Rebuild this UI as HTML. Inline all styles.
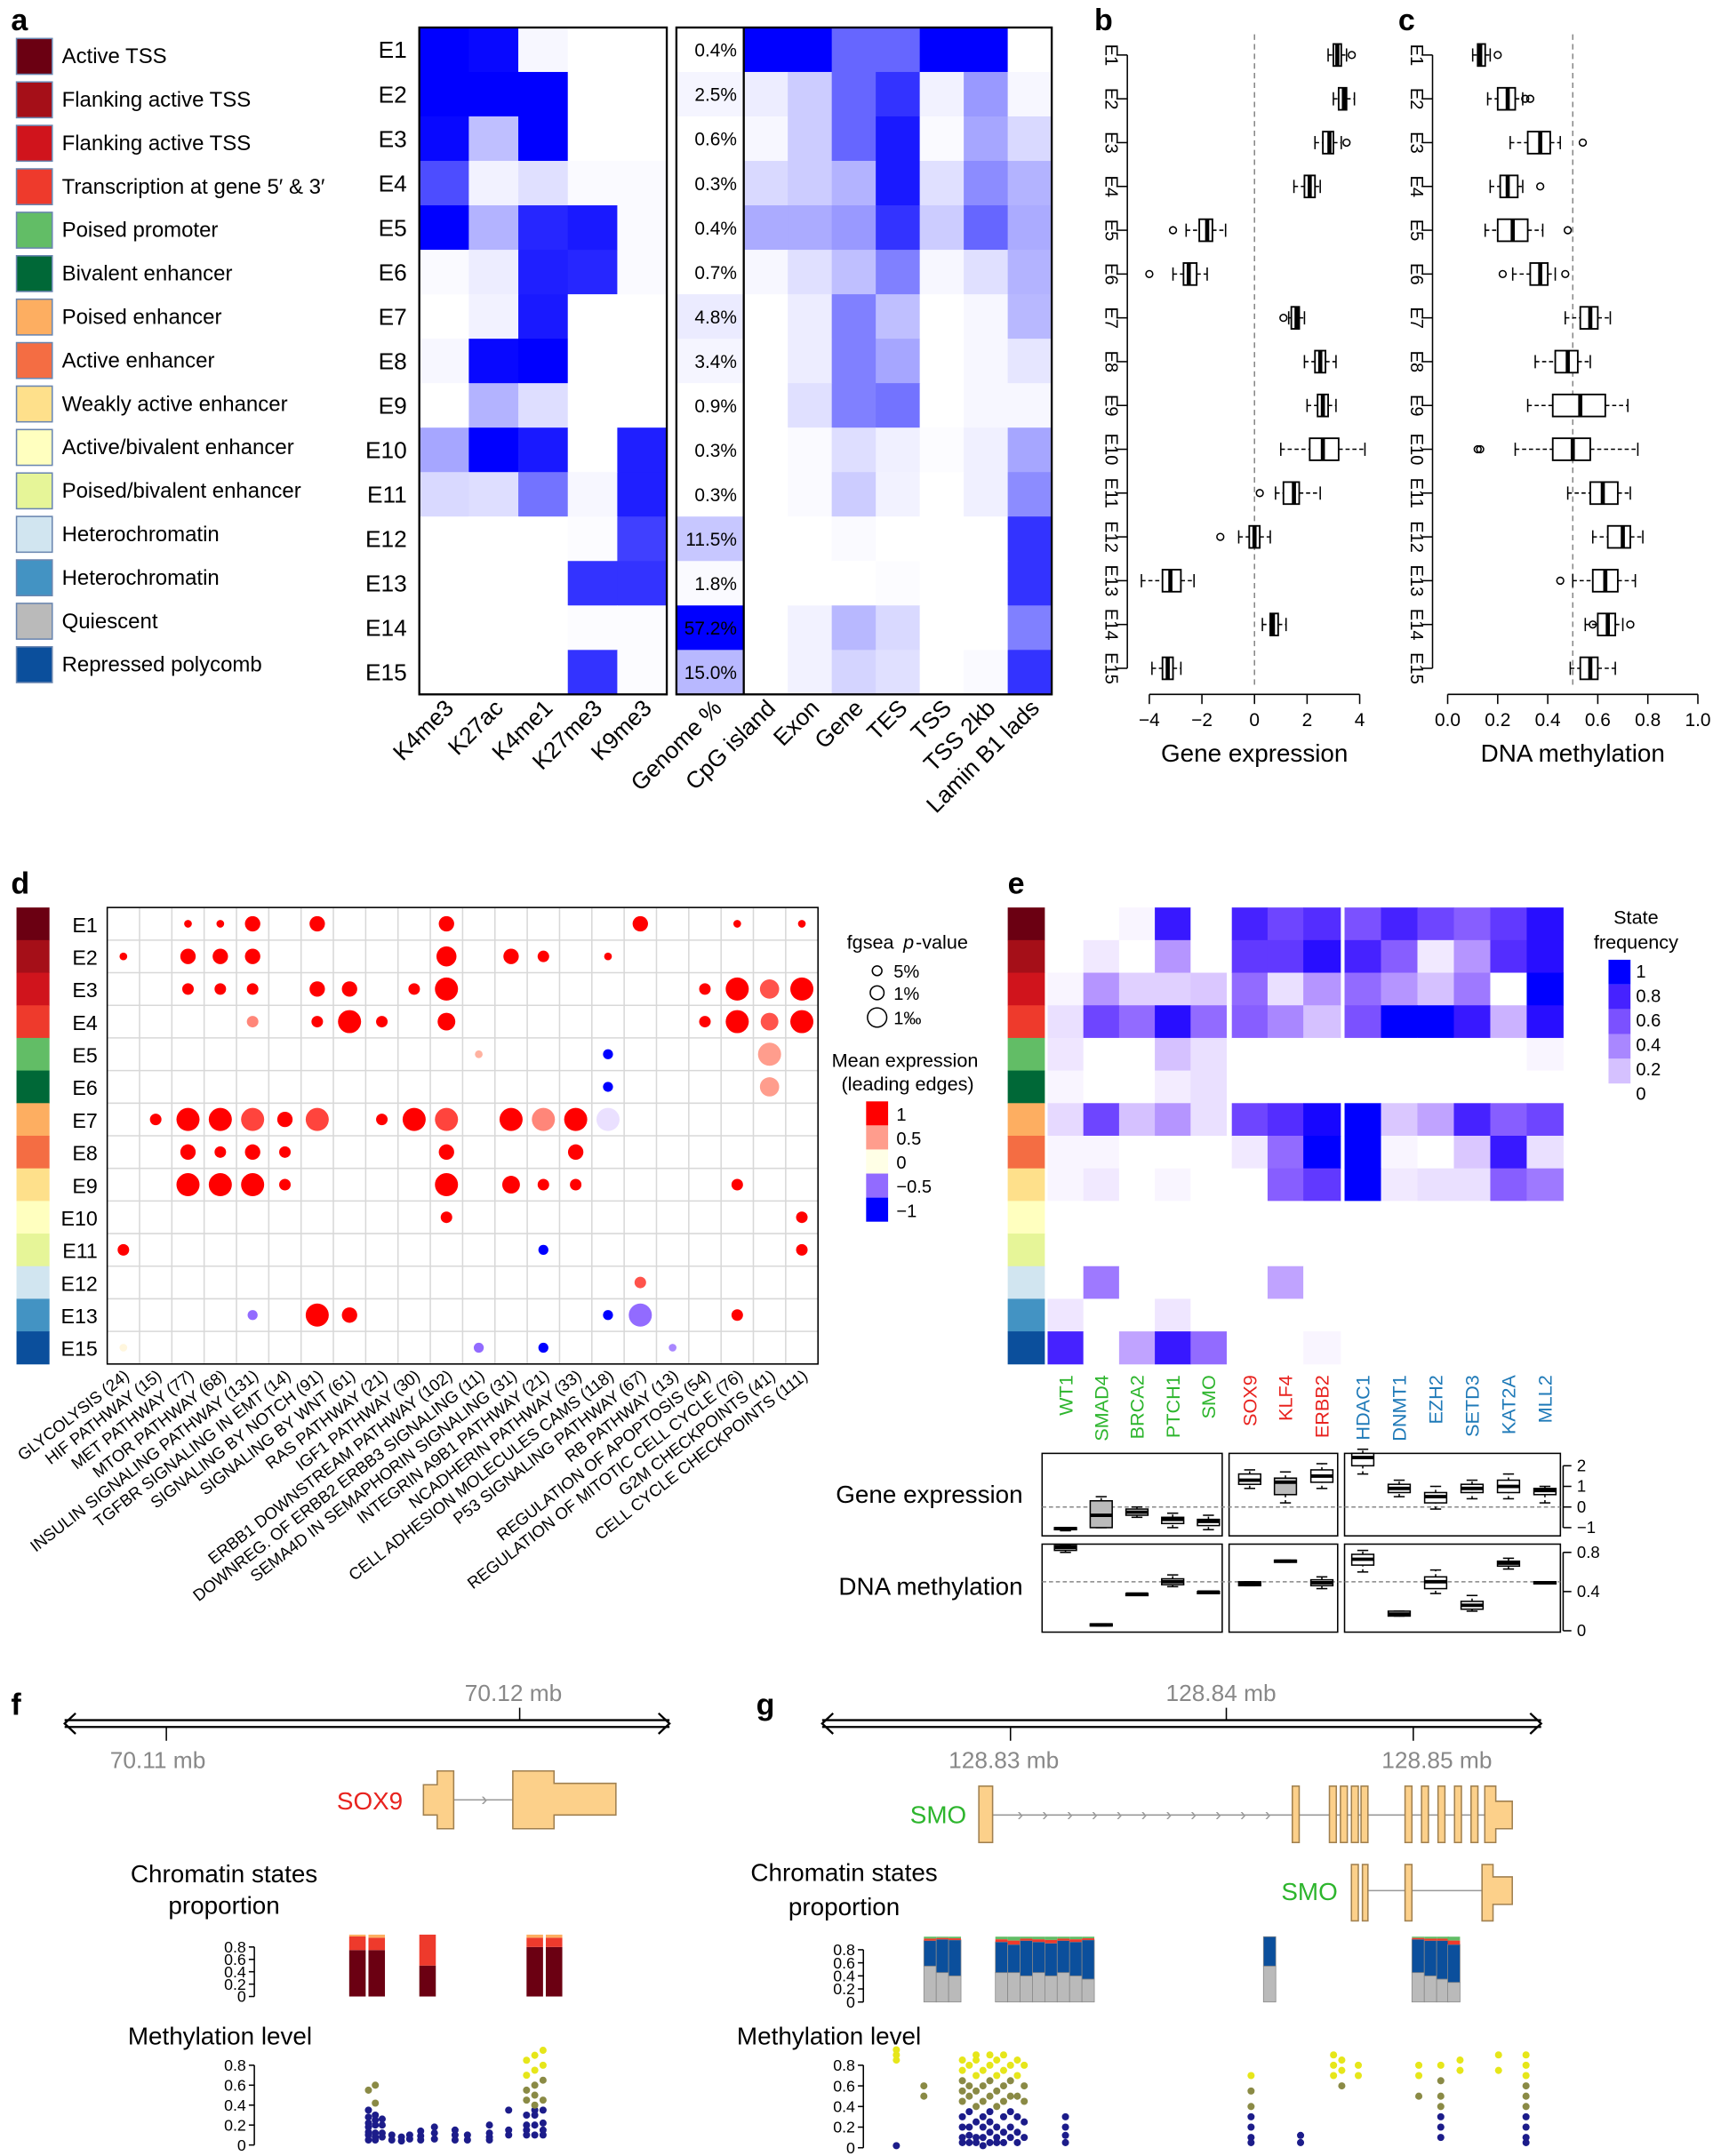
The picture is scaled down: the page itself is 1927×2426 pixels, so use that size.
<!DOCTYPE html>
<html><head><meta charset="utf-8"><style>
html,body{margin:0;padding:0;background:#fff;}
svg{display:block;font-family:"Liberation Sans",Arial,sans-serif;}
</style></head><body>
<svg id="fig" xmlns="http://www.w3.org/2000/svg" width="1927" height="2426" viewBox="0 0 1246 1568" preserveAspectRatio="none"></svg>
<script>
// ---------- DATA ----------
const states=['E1','E2','E3','E4','E5','E6','E7','E8','E9','E10','E11','E12','E13','E14','E15'];
const stateNames=['Active TSS','Flanking active TSS','Flanking active TSS','Transcription at gene 5\u2032 & 3\u2032','Poised promoter','Bivalent enhancer','Poised enhancer','Active enhancer','Weakly active enhancer','Active/bivalent enhancer','Poised/bivalent enhancer','Heterochromatin','Heterochromatin','Quiescent','Repressed polycomb'];
const stateColors=['#6b0012','#a50f18','#d0141c','#ee3a2c','#62bd66','#006837','#fdae61','#f46d43','#fee08b','#ffffbf','#e6f598','#d1e5f0','#4393c3','#bababa','#0b4f9c'];
const markNames=['K4me3','K27ac','K4me1','K27me3','K9me3'];
const markVals=[[1,.97,.03,0,0],[1,1,1,0,0],[.97,.25,1,0,0],[.7,.05,.12,.02,.02],[1,.3,.85,.9,.02],[.02,.07,.88,.85,.02],[0,.05,.9,0,0],[.03,.97,1,0,0],[0,.3,.13,0,0],[.35,1,.9,0,.88],[.15,.13,.55,.03,.88],[0,0,0,.01,.75],[0,0,0,.8,.8],[0,0,0,.01,.01],[0,0,0,.8,.01]];
const genomePct=['0.4%','2.5%','0.6%','0.3%','0.4%','0.7%','4.8%','3.4%','0.9%','0.3%','0.3%','11.5%','1.8%','57.2%','15.0%'];
const genomeShade=[0,.04,0,0,0,0,.08,.04,0,0,0,.22,.02,1,.28];
const annNames=['CpG island','Exon','Gene','TES','TSS','TSS 2kb','Lamin B1 lads'];
const annVals=[[1,1,.6,.6,1,1,0],[.07,.2,.6,.8,.05,.4,.03],[.03,.2,.6,.9,.02,.35,.15],[.15,.2,.3,.9,.12,.45,.3],[.33,.33,.4,.8,.2,.6,.33],[.03,.12,.25,.5,.03,.12,.3],[0,.07,.5,.25,0,.03,.28],[0,.07,.5,.35,0,.03,.1],[0,.12,.5,.55,0,.03,.03],[0,.02,.13,.06,.01,.06,.35],[0,.02,.2,.05,0,.06,.45],[0,0,.02,0,0,0,.8],[0,0,0,.01,0,0,.8],[0,.05,.28,.15,0,0,.5],[0,.05,.17,.12,0,.02,.8]];
const exprBox=[[2.8,3.0,3.15,3.3,3.5],[3.0,3.2,3.4,3.5,3.8],[2.3,2.6,2.85,3.0,3.3],[1.5,1.9,2.1,2.3,2.5],[-2.6,-2.1,-1.8,-1.6,-1.1],[-3.1,-2.7,-2.5,-2.2,-1.8],[1.3,1.4,1.6,1.7,1.9],[1.9,2.3,2.5,2.7,3.1],[2.0,2.4,2.6,2.8,3.1],[1.0,2.1,2.6,3.2,4.2],[0.8,1.1,1.5,1.7,2.5],[-0.6,-0.2,0.0,0.2,0.6],[-4.3,-3.5,-3.2,-2.8,-2.3],[0.3,0.6,0.7,0.9,1.2],[-3.9,-3.5,-3.3,-3.1,-2.8]];
const exprOut=[[3.7],[],[3.5],[],[-3.1],[-4.0],[1.1],[],[],[],[0.2],[-1.3],[],[],[]];
const methBox=[[.1,.12,.13,.15,.17],[.16,.2,.24,.27,.3],[.25,.32,.37,.41,.45],[.17,.21,.24,.28,.3],[.15,.2,.26,.32,.38],[.26,.33,.37,.4,.43],[.47,.53,.57,.6,.65],[.35,.43,.48,.52,.57],[.32,.42,.53,.63,.72],[.27,.42,.5,.57,.76],[.48,.57,.62,.68,.73],[.58,.64,.7,.73,.78],[.5,.58,.63,.68,.75],[.55,.6,.64,.67,.7],[.49,.53,.57,.6,.67]];
const methOut=[[.2],[.31,.33],[.54],[.37],[.48],[.22,.47],[],[],[],[.12,.13],[],[],[.45],[.58,.73],[]];
const dRows=['E1','E2','E3','E4','E5','E6','E7','E8','E9','E10','E11','E12','E13','E15'];
const dRowColors=['#6b0012','#a50f18','#d0141c','#ee3a2c','#62bd66','#006837','#fdae61','#f46d43','#fee08b','#ffffbf','#e6f598','#d1e5f0','#4393c3','#0b4f9c'];
const pathways=['GLYCOLYSIS (24)','HIF PATHWAY (15)','MET PATHWAY (77)','MTOR PATHWAY (68)','INSULIN SIGNALING PATHWAY (131)','TGFBR SIGNALING IN EMT (14)','SIGNALING BY NOTCH (91)','SIGNALING BY WNT (61)','RAS PATHWAY (21)','IGF1 PATHWAY (30)','ERBB1 DOWNSTREAM PATHWAY (102)','DOWNREG. OF ERBB2 ERBB3 SIGNALING (11)','SEMA4D IN SEMAPHORIN SIGNALING (31)','INTEGRIN A9B1 PATHWAY (21)','NCADHERIN PATHWAY (33)','CELL ADHESION MOLECULES CAMS (118)','P53 SIGNALING PATHWAY (67)','RB PATHWAY (13)','REGULATION OF APOPTOSIS (54)','REGULATION OF MITOTIC CELL CYCLE (76)','G2M CHECKPOINTS (41)','CELL CYCLE CHECKPOINTS (111)'];
const dDots=[[0,2,1,1],[0,3,1,1],[0,4,2,1],[0,6,2,1],[0,10,2,1],[0,16,2,1],[0,19,1,1],[0,21,1,1],
[1,0,1,1],[1,2,2,1],[1,3,2,1],[1,4,2,1],[1,10,2.6,1],[1,12,2,1],[1,13,1.5,1],[1,15,1,1],
[2,2,1.5,1],[2,3,1.5,1],[2,4,1.5,1],[2,6,2,1],[2,7,2,1],[2,9,1.5,1],[2,10,3,1],[2,18,1.5,1],[2,19,3,1],[2,20,2.5,.8],[2,21,3,1],
[3,4,1.5,.6],[3,6,1.5,1],[3,7,3,1],[3,8,1.5,1],[3,10,2.3,1],[3,18,1.5,1],[3,19,3,1],[3,20,2.3,.8],[3,21,3,1],
[4,11,1,.4],[4,15,1.3,-1],[4,20,3,.5],
[5,15,1.3,-1],[5,20,2.5,.5],
[6,1,1.5,1],[6,2,3,1],[6,3,3,1],[6,4,3,.85],[6,5,2,1],[6,6,3,.85],[6,8,1.5,1],[6,9,3,1],[6,10,3,.85],[6,12,3,1],[6,13,3,.6],[6,14,3,1],[6,15,3,-.1],
[7,2,2,1],[7,3,1.5,1],[7,4,2,1],[7,5,1.5,1],[7,10,2,1],[7,14,2,1],
[8,2,3,1],[8,3,3,1],[8,4,3,1],[8,5,1.5,1],[8,10,3,1],[8,12,2.3,1],[8,13,1.5,1],[8,14,1.5,1],[8,19,1.5,1],
[9,10,1.5,1],[9,21,1.5,1],
[10,0,1.5,1],[10,13,1.3,-1],[10,21,1.5,1],
[11,16,1.5,.8],
[12,4,1.3,-.5],[12,6,3,1],[12,7,2,1],[12,15,1.3,-1],[12,16,3,-.5],[12,19,1.5,1],
[13,0,1,.05],[13,11,1.3,-.5],[13,13,1.3,-1],[13,17,1,-.4]];
const eGenes=['WT1','SMAD4','BRCA2','PTCH1','SMO','SOX9','KLF4','ERBB2','HDAC1','DNMT1','EZH2','SETD3','KAT2A','MLL2'];
const eGeneColors=['#2db52d','#2db52d','#2db52d','#2db52d','#2db52d','#e8231f','#e8231f','#e8231f','#1f7ab8','#1f7ab8','#1f7ab8','#1f7ab8','#1f7ab8','#1f7ab8'];
const eFreq=[[0,0,.03,.85,0,.8,.65,.75,.6,.8,.65,.55,.7,.9],[0,.07,0,.35,0,.7,.7,.9,.8,.55,.07,.35,.75,.9],[.03,.35,.15,.15,.18,.5,.1,.35,.5,.35,.2,.45,0,1],[.1,.65,.5,.9,.5,.55,.4,.2,.6,1,1,.85,.25,.9],[.08,0,0,.2,.1,0,0,0,0,0,0,0,0,.03],[.03,0,0,.06,.1,0,0,0,0,0,0,0,0,0],[.12,.65,.2,.35,.1,.65,.75,.95,1,.18,.3,.8,.55,.65],[.03,.03,0,0,0,.07,.5,1,1,.03,0,.18,.85,.1],[.03,.07,0,.03,0,0,.55,.7,1,.07,.1,.1,.55,.45],[0,0,0,0,0,0,0,0,0,0,0,0,0,0],[0,0,0,0,0,0,0,0,0,0,0,0,0,0],[0,.45,0,0,0,0,.3,0,0,0,0,0,0,0],[.08,0,0,.08,0,0,0,0,0,0,0,0,0,0],[.8,0,.3,.85,.5,0,0,.03,0,0,0,0,0,0]];
const eExpr=[[-1.15,-1.1,-1.05,-1.0,-1.0],[-1,-1,-.4,.3,.5],[-.5,-.4,-.25,-.1,0],[-1,-.8,-.6,-.5,-.3],[-1.1,-.9,-.7,-.6,-.4],[.9,1.1,1.3,1.6,1.8],[.2,.6,1.2,1.4,1.7],[.9,1.2,1.5,1.8,2.1],[1.6,2,2.4,2.6,2.8],[.5,.7,.9,1.1,1.3],[-.1,.2,.5,.7,1.0],[.4,.7,.9,1.1,1.3],[.4,.7,1.0,1.3,1.6],[.2,.6,.8,.9,1.0]];
const eExprFill=[0,1,0,0,0,0,1,0,0,0,0,0,0,0];
const eMeth=[[.8,.82,.85,.87,.88],[.05,.05,.06,.07,.07],[.37,.37,.375,.38,.38],[.45,.47,.5,.53,.57],[.39,.39,.395,.4,.4],[.46,.46,.48,.5,.5],[.7,.7,.71,.72,.72],[.43,.46,.49,.52,.55],[.6,.67,.73,.78,.82],[.15,.15,.17,.2,.2],[.38,.43,.5,.55,.62],[.2,.22,.26,.3,.36],[.63,.66,.69,.71,.74],[.48,.48,.49,.5,.5]];
const fBars=[[254,[.75,.22,.03]],[268,[.75,.2,.05]],[305,[.5,.5,0]],[383,[.8,.15,.05]],[397,[.8,.15,.05]]];
const fMethPos=[268,273,278,285,292,298,306,316,331,340,356,370,383,389,395];
const fMethVals=[[.05,.1,.13,.18,.22,.28,.35,.55],[.05,.08,.12,.2,.25,.3,.42,.6],[.08,.12,.2,.26],[.05,.1],[.04,.08],[.06,.1],[.05,.09,.14],[.06,.12,.18],[.05,.1,.15],[.05,.1],[.05,.08,.12,.2],[.1,.15,.35],[.1,.15,.2,.3,.45,.55,.7,.85],[.1,.2,.3,.35,.4,.5,.6,.75,.9],[.1,.15,.22,.35,.45,.65,.8,.95]];
const gBarPos=[672,681,690,724,733,742,751,760,769,778,787,919,1027,1036,1045,1053];
const gBarQuies=[.55,.45,.4,.45,.45,.4,.45,.4,.45,.4,.35,.55,.45,.4,.35,.3];
const gBarTop=[.06,.04,.05,.08,.12,.06,.08,.1,.06,.08,.05,0,.04,.06,.06,.12];
const gMethPos=[652,672,700,705,710,715,720,725,730,735,740,745,775,910,946,970,976,988,1032,1048,1062,1090,1110];
const gMethVals=[[.02,.85,.9,.95],[.5,.6],[.05,.1,.2,.3,.45,.55,.65,.75,.85],[.05,.12,.2,.35,.5,.6,.8],[.05,.1,.25,.4,.55,.7,.85,.9],[.02,.1,.2,.3,.45,.6,.75],[.05,.15,.25,.35,.5,.65,.8,.9],[.05,.1,.2,.4,.55,.7,.85],[.05,.15,.3,.45,.6,.75,.9],[.1,.2,.35,.5,.65,.8],[.05,.15,.3,.5,.7,.85],[.1,.25,.45,.6,.8],[.05,.12,.2,.3],[.05,.1,.2,.3,.4,.55,.7],[.05,.12],[.7,.8,.9],[.6,.75,.85],[.7,.8],[.5,.7,.8],[.1,.2,.3,.4,.5,.65,.8],[.75,.85],[.75,.9],[.05,.1,.2,.3,.4,.5,.6,.7,.8,.9]];

// ---------- HELPERS ----------
const NS='http://www.w3.org/2000/svg';
const svg=document.getElementById('fig');
function mk(tag,attrs,name,parent){
  const e=document.createElementNS(NS,tag);
  for(const k in attrs) e.setAttribute(k,attrs[k]);
  
  
  (parent||svg).appendChild(e); return e;
}
function T(x,y,s,name,o){
  o=o||{};
  const a={x:x,y:y,'font-size':o.fs||15,fill:o.fill||'#000'};
  if(o.anchor)a['text-anchor']=o.anchor;
  if(o.rot!==undefined)a.transform=`rotate(${o.rot} ${x} ${y})`;
  if(o.bold)a['font-weight']='bold';
  const e=mk('text',a,name); e.textContent=s; return e;
}
function L(x1,y1,x2,y2,name,o){o=o||{};return mk('line',{x1,y1,x2,y2,stroke:o.c||'#000','stroke-width':o.w||1,'stroke-dasharray':o.d||'none'},name);}
function R(x,y,w,h,fill,name,o){o=o||{};return mk('rect',{x,y,width:w,height:h,fill,stroke:o.s||'none','stroke-width':o.sw||1},name);}
function blue(v){const c=Math.round(255*(1-v));return `rgb(${c},${c},255)`;}
function purp(v){v=Math.max(0,Math.min(1,v));const r=Math.round(255*Math.pow(1-v,0.8)),g=Math.round(255*Math.pow(1-v,1.25));return `rgb(${r},${g},255)`;}
function divc(v){if(v>=0){const g=Math.round(255*Math.pow(1-v,0.7));return `rgb(255,${g},${Math.round(g*0.9)})`;}return purp(-v);}

// ---------- PANEL LETTERS ----------
[['a',8,22],['b',796,22],['c',1017,22],['d',8,650],['e',733,650],['f',8,1247],['g',550,1247]].forEach(p=>T(p[1],p[2],p[0],'panel-letter-'+p[0],{fs:22,bold:true}));

// ---------- PANEL A ----------
states.forEach((s,i)=>{
  const y=28+i*31.6;
  R(12,y,26,26,stateColors[i],'legend-swatch-'+s,{s:'#6a86b0',sw:1});
  T(45,y+18,stateNames[i],'legend-label-'+s,{fs:15.5});
});
const aTop=20,aH=485/15;
states.forEach((s,i)=>{
  const y=aTop+i*aH;
  T(296,y+aH/2+6,s,'row-label-'+s,{fs:17,anchor:'end'});
  markVals[i].forEach((v,j)=>R(305+j*36,y,36.4,aH+0.4,blue(v),'mark-cell'));
  R(492,y,49,aH+0.4,blue(genomeShade[i]),'genome-cell');
  T(536,y+aH/2+5,genomePct[i],'genome-pct-'+s,{fs:13.5,anchor:'end'});
  annVals[i].forEach((v,j)=>R(541+j*32,y,32.4,aH+0.4,blue(v),'annotation-cell'));
});
R(305,aTop,180,485,'none','mark-heatmap-frame',{s:'#000',sw:1.5});
R(492,aTop,273,485,'none','annotation-heatmap-frame',{s:'#000',sw:1.5});
L(541,aTop,541,aTop+485,'genome-divider',{w:1.5});
markNames.forEach((m,j)=>T(305+j*36+26,516,m,'col-label-'+m,{fs:17,anchor:'end',rot:-45}));
T(526,516,'Genome %','col-label-genome',{fs:17,anchor:'end',rot:-45});
annNames.forEach((m,j)=>T(541+j*32+24,516,m,'col-label-'+m.replace(/ /g,'-'),{fs:17,anchor:'end',rot:-45}));

// ---------- PANEL B & C ----------
function boxPanel(key,data,outs,x0,x1,v0,v1,ticks,tickLbl,dash,axX,title){
  const sx=v=>x0+(v-v0)/(v1-v0)*(x1-x0);
  const yr=i=>40+i*31.86;
  L(axX,40,axX,486,key+'-y-axis');
  states.forEach((s,i)=>{
    L(axX-8,yr(i),axX,yr(i),key+'-y-tick');
    T(axX-16,yr(i),s,key+'-row-label-'+s,{fs:13,anchor:'middle',rot:90});
  });
  L(sx(dash),25,sx(dash),498,key+'-ref-line',{c:'#888',d:'4,3'});
  data.forEach((b,i)=>{
    const y=yr(i),h=8;
    L(sx(b[0]),y,sx(b[1]),y,key+'-whisker',{d:'3,2'});
    L(sx(b[3]),y,sx(b[4]),y,key+'-whisker',{d:'3,2'});
    L(sx(b[0]),y-h*.6,sx(b[0]),y+h*.6,key+'-whisker-cap');
    L(sx(b[4]),y-h*.6,sx(b[4]),y+h*.6,key+'-whisker-cap');
    R(sx(b[1]),y-h,Math.max(1,sx(b[3])-sx(b[1])),2*h,'#fff',key+'-box-'+states[i],{s:'#000',sw:1.2});
    L(sx(b[2]),y-h,sx(b[2]),y+h,key+'-median',{w:3});
    outs[i].forEach(o=>mk('circle',{cx:sx(o),cy:y,r:2.5,fill:'none',stroke:'#000'},key+'-outlier'));
  });
  L(sx(ticks[0]),505,sx(ticks[ticks.length-1]),505,key+'-x-axis');
  ticks.forEach((t,k)=>{L(sx(t),505,sx(t),512,key+'-x-tick');T(sx(t),528,tickLbl[k],key+'-x-tick-label',{fs:13.5,anchor:'middle'});});
  T((x0+x1)/2,554,title,key+'-x-title',{fs:18,anchor:'middle'});
}
boxPanel('expr',exprBox,exprOut,836,989,-4,4,[-4,-2,0,2,4],['\u22124','\u22122','0','2','4'],0,820,'Gene expression');
boxPanel('meth',methBox,methOut,1053,1235,0,1,[0,.2,.4,.6,.8,1],['0.0','0.2','0.4','0.6','0.8','1.0'],0.5,1042,'DNA methylation');

// ---------- PANEL D ----------
const dx0=78,dy0=660,dcw=517/22,drh=332/14;
for(let j=0;j<=22;j++)L(dx0+j*dcw,dy0,dx0+j*dcw,dy0+332,'d-grid-v',{c:'#d8d8d8'});
for(let i=0;i<=14;i++)L(dx0,dy0+i*drh,dx0+517,dy0+i*drh,'d-grid-h',{c:'#d8d8d8'});
R(dx0,dy0,517,332,'none','d-frame',{s:'#000',sw:1});
dRows.forEach((s,i)=>{
  R(12,dy0+i*drh,24,drh+0.3,dRowColors[i],'d-state-swatch-'+s);
  T(71,dy0+i*drh+drh/2+6,s,'d-row-label-'+s,{fs:15,anchor:'end'});
});
dDots.forEach(d=>{
  mk('circle',{cx:dx0+(d[1]+.5)*dcw,cy:dy0+(d[0]+.5)*drh,r:2.8*d[2],fill:divc(d[3])},'d-dot');
});
pathways.forEach((p,j)=>T(dx0+(j+.5)*dcw+5,1002,p,'pathway-label',{fs:12,anchor:'end',rot:-38}));
T(616,690,'fgsea ','d-legend-title',{fs:14});
T(657,690,'p','d-legend-title-p',{fs:14}).setAttribute('font-style','italic');
T(666,690,'-value','d-legend-title-2',{fs:14});
[['5%',3.5,706],['1%',5,722],['1\u2030',7,740]].forEach(l=>{
  mk('circle',{cx:638,cy:l[2],r:l[1],fill:'none',stroke:'#000'},'d-size-legend');
  T(650,l[2]+5,l[0],'d-size-legend-label',{fs:13});
});
T(605,776,'Mean expression','d-color-legend-title',{fs:14});
T(612,793,'(leading edges)','d-color-legend-title',{fs:14});
[[1,'1'],[.5,'0.5'],[0,'0'],[-.5,'\u22120.5'],[-1,'\u22121']].forEach((c,k)=>{
  R(630,801+k*17.5,16,17.5,divc(c[0]),'d-color-legend-box');
  T(652,815+k*17.5,c[1],'d-color-legend-label',{fs:13});
});

// ---------- PANEL E ----------
const ex=[762,788,814,840,866, 896,922,948, 978,1004.5,1031,1057.5,1084,1110.5];
const ew=[26,26,26,26,26,26,26,27,26.5,26.5,26.5,26.5,26.5,26.5];
dRows.forEach((s,i)=>{
  const y=dy0+i*drh;
  R(733,y,27,drh+0.3,dRowColors[i],'e-state-swatch-'+s);
  eFreq[i].forEach((v,j)=>R(ex[j],y,ew[j]+0.3,drh+0.3,purp(v),'e-cell'));
});
eGenes.forEach((g,j)=>T(ex[j]+ew[j]/2+5,1000,g,'e-gene-label-'+g,{fs:14,anchor:'end',rot:-90,fill:eGeneColors[j]}));
T(1190,672,'State','e-legend-title',{fs:14,anchor:'middle'});
T(1190,690,'frequency','e-legend-title',{fs:14,anchor:'middle'});
[1,.8,.6,.4,.2].forEach((v,k)=>{R(1170,698+k*18,16,18,purp(v),'e-legend-box');});
['1','0.8','0.6','0.4','0.2','0'].forEach((l,k)=>T(1190,711+k*17.8,l,'e-legend-label',{fs:13}));
const groups=[[758,889],[894,973],[978,1135]];
function eBox(key,data,y0,y1,v0,v1,tks,tkl,dash,fills,fy0,fy1){
  const sy=v=>y1-(v-v0)/(v1-v0)*(y1-y0);
  groups.forEach(g=>R(g[0],fy0,g[1]-g[0],fy1-fy0,'none',key+'-group-frame',{s:'#000'}));
  L(758,sy(dash),1135,sy(dash),key+'-ref-line',{c:'#888',d:'3,2'});
  data.forEach((b,j)=>{
    const cx=ex[j]+ew[j]/2,hw=8;
    L(cx,sy(b[0]),cx,sy(b[1]),key+'-whisker',{d:'2,2'});
    L(cx,sy(b[3]),cx,sy(b[4]),key+'-whisker',{d:'2,2'});
    L(cx-4,sy(b[0]),cx+4,sy(b[0]),key+'-cap');L(cx-4,sy(b[4]),cx+4,sy(b[4]),key+'-cap');
    R(cx-hw,sy(b[3]),2*hw,Math.max(1.5,sy(b[1])-sy(b[3])),fills&&fills[j]?'#bbb':'#fff',key+'-box-'+eGenes[j],{s:'#000'});
    L(cx-hw,sy(b[2]),cx+hw,sy(b[2]),key+'-median',{w:2.5});
  });
  L(1137,sy(tks[0]),1137,sy(tks[tks.length-1]),key+'-axis');
  tks.forEach((t,k)=>{L(1137,sy(t),1143,sy(t),key+'-tick');T(1147,sy(t)+4,tkl[k],key+'-tick-label',{fs:12});});
}
eBox('e-expr',eExpr,1066,1111,-1,2,[-1,0,1,2],['\u22121','0','1','2'],0,eExprFill,1057,1117);
eBox('e-meth',eMeth,1129,1186,0,0.8,[0,.4,.8],['0','0.4','0.8'],0.5,null,1123,1187);
T(608,1093,'Gene expression','e-expr-title',{fs:18});
T(610,1160,'DNA methylation','e-meth-title',{fs:18});

// ---------- PANEL F/G TRACKS ----------
function ruler(key,x0,x1){
  L(x0,1251,x1,1251,key+'-ruler',{w:1.5});L(x0,1256,x1,1256,key+'-ruler',{w:1.5});
  mk('path',{d:`M${x0+8},1246 L${x0},1253.5 L${x0+8},1261`,fill:'none',stroke:'#000','stroke-width':1.5},key+'-ruler-arrow');
  mk('path',{d:`M${x1-8},1246 L${x1},1253.5 L${x1-8},1261`,fill:'none',stroke:'#000','stroke-width':1.5},key+'-ruler-arrow');
}
ruler('f',47,487);
L(121,1256,121,1266,'f-tick-1');L(378,1242,378,1251,'f-tick-2');
T(80,1286,'70.11 mb','f-coord-1',{fs:17,fill:'#888'});
T(338,1237,'70.12 mb','f-coord-2',{fs:17,fill:'#888'});
T(245,1316,'SOX9','f-gene-name',{fs:18,fill:'#e8231f'});
const exonC='#fcd08a',exonS='#a08050';
L(330,1309,373,1309,'f-intron',{c:'#999'});
T(350,1313,'\u203a','f-intron-arrow',{fs:14,fill:'#999'});
mk('path',{d:'M308,1298 L318,1298 L318,1288 L330,1288 L330,1330 L318,1330 L318,1320 L308,1320 Z',fill:exonC,stroke:exonS},'f-exon-1');
mk('path',{d:'M373,1288 L403,1288 L403,1297 L448,1297 L448,1320 L403,1320 L403,1330 L373,1330 Z',fill:exonC,stroke:exonS},'f-exon-2');
T(163,1369,'Chromatin states','f-chrom-title',{fs:18,anchor:'middle'});
T(163,1392,'proportion','f-chrom-title',{fs:18,anchor:'middle'});
function yAxis(key,x,y0,y1,vals,labels){
  const sy=v=>y0-(v/0.8)*(y0-y1);
  L(x,sy(0),x,sy(.8),key+'-axis');
  vals.forEach((v,k)=>{L(x-4,sy(v),x,sy(v),key+'-tick');T(x-6,sy(v)+4,labels[k],key+'-tick-label',{fs:11.5,anchor:'end'});});
  return sy;
}
const tk=[0,.2,.4,.6,.8],tkl=['0','0.2','0.4','0.6','0.8'];
const fsy=yAxis('f-chrom',185,1452,1416,tk,tkl);
const fCols=['#6b0012','#ee3a2c','#fdae61'];
fBars.forEach(b=>{let acc=0;b[1].forEach((f,k)=>{if(f>0)R(b[0],fsy(acc+f),12,fsy(acc)-fsy(acc+f),fCols[k],'f-chrom-bar');acc+=f;});});
T(93,1487,'Methylation level','f-meth-title',{fs:18});
const fmy=yAxis('f-meth',185,1560,1502,tk,tkl);
function mcol(v){return v>0.65?'#e6e61a':(v>0.35?'#8a8a45':'#1c1c8a');}
fMethPos.forEach((x,k)=>fMethVals[k].forEach(v=>mk('circle',{cx:x,cy:fmy(v),r:2.6,fill:mcol(v)},'f-meth-dot')));

ruler('g',598,1121);
L(735,1256,735,1266,'g-tick-1');L(1028,1256,1028,1266,'g-tick-2');L(892,1242,892,1251,'g-tick-3');
T(690,1286,'128.83 mb','g-coord-1',{fs:17,fill:'#888'});
T(1005,1286,'128.85 mb','g-coord-2',{fs:17,fill:'#888'});
T(848,1237,'128.84 mb','g-coord-3',{fs:17,fill:'#888'});
T(662,1326,'SMO','g-gene-name',{fs:18,fill:'#2db52d'});
L(722,1320,1082,1320,'g-intron',{c:'#999'});
for(let x=740;x<930;x+=18)T(x,1324,'\u203a','g-intron-arrow',{fs:13,fill:'#999'});
R(712,1299,10,41,exonC,'g-exon',{s:exonS});
[940,967,975,983,990,1022,1034,1046,1058,1070].forEach(x=>R(x,1299,5,41,exonC,'g-exon',{s:exonS}));
mk('path',{d:'M1080,1299 L1088,1299 L1088,1310 L1100,1310 L1100,1330 L1088,1330 L1088,1340 L1080,1340 Z',fill:exonC,stroke:exonS},'g-exon-last');
T(932,1382,'SMO','g-gene-name-2',{fs:18,fill:'#2db52d'});
L(992,1375,1080,1375,'g-intron-2',{c:'#999'});
R(983,1356,5,41,exonC,'g-exon-2',{s:exonS});R(991,1356,4,41,exonC,'g-exon-2',{s:exonS});
R(1022,1356,5,41,exonC,'g-exon-2',{s:exonS});
mk('path',{d:'M1078,1356 L1086,1356 L1086,1365 L1100,1365 L1100,1385 L1086,1385 L1086,1397 L1078,1397 Z',fill:exonC,stroke:exonS},'g-exon-2-last');
T(614,1368,'Chromatin states','g-chrom-title',{fs:18,anchor:'middle'});
T(614,1393,'proportion','g-chrom-title',{fs:18,anchor:'middle'});
const gsy=yAxis('g-chrom',628,1456,1418,tk,tkl);
gBarPos.forEach((x,k)=>{
  const q=gBarQuies[k],t=gBarTop[k];
  R(x,gsy(q),9,gsy(0)-gsy(q),'#bababa','g-chrom-quiescent',{s:'#888',sw:.5});
  R(x,gsy(1-t),9,gsy(q)-gsy(1-t),'#0b4f9c','g-chrom-polycomb',{s:'#888',sw:.5});
  if(t>0){R(x,gsy(1),9,gsy(1-t*0.5)-gsy(1),'#62bd66','g-chrom-poised');R(x,gsy(1-t*.5),9,gsy(1-t)-gsy(1-t*.5),'#ee3a2c','g-chrom-tss');}
});
T(536,1487,'Methylation level','g-meth-title',{fs:18});
const gmy=yAxis('g-meth',628,1562,1502,tk,tkl);
gMethPos.forEach((x,k)=>gMethVals[k].forEach(v=>mk('circle',{cx:x,cy:gmy(v),r:2.6,fill:mcol(v)},'g-meth-dot')));
</script>
</body></html>
